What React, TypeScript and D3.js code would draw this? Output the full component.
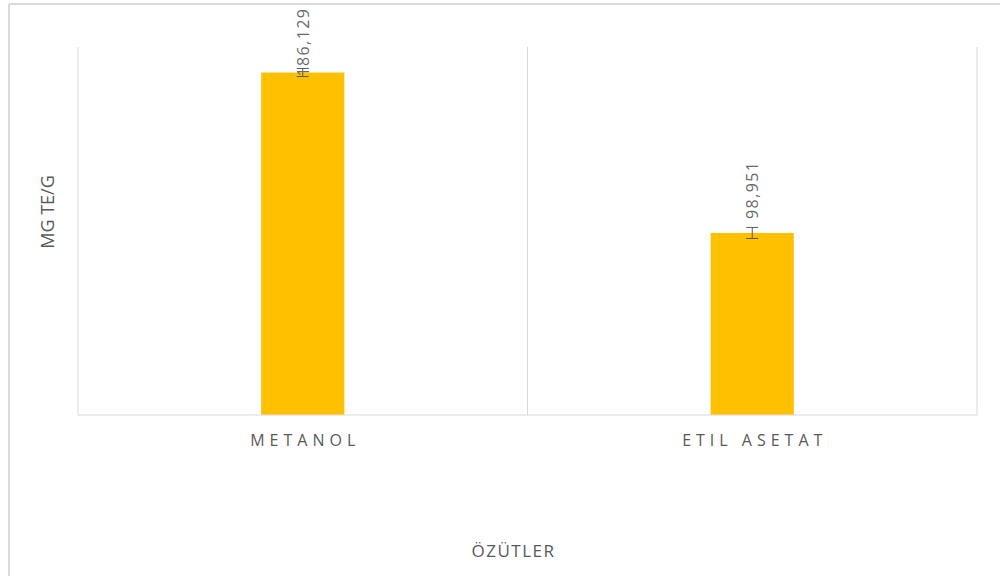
import React from "react";
import * as d3 from "d3";

// Extract yields (mg TE/g) per solvent, with standard deviations
const categories: string[] = ["METANOL", "ETIL ASETAT"];
const values: number[] = [186.129, 98.951];
const errors: number[] = [2.2, 3.0];
const valueLabels: string[] = ["186,129", "98,951"];
const yDomain: [number, number] = [0, 200];

const xTitle = "ÖZÜTLER";
const yTitle = "MG TE/G";

const W = 1000;
const H = 576;
const plot = { left: 78, right: 977, top: 47, bottom: 415 };
const GRID = "#d9d9d9";
const TEXT = "#595959";
const BAR = "#FFC000";
const FONT = "'Open Sans', 'Liberation Sans', sans-serif";
// label start nudges relative to bar tops
const labelNudge = [4, -14];

export default function App() {
  const x = d3
    .scaleBand<string>()
    .domain(categories)
    .range([plot.left, plot.right])
    .paddingInner(0)
    .paddingOuter(0);
  const y = d3.scaleLinear().domain(yDomain).range([plot.bottom, plot.top]);
  const barW = x.bandwidth() * 0.185;

  const gridXs = [plot.left, ...categories.map((c) => (x(c) as number) + x.bandwidth())];

  return (
    <svg
      width={W}
      height={H}
      style={{ position: "absolute", left: 0, top: 0, background: "#fff" }}
    >
      {/* outer chart frame */}
      <line x1={9} y1={4} x2={W} y2={4} stroke={GRID} strokeWidth={2} />
      <line x1={9} y1={4} x2={9} y2={H} stroke={GRID} strokeWidth={2} />

      {/* category separators */}
      {gridXs.map((gx, i) => (
        <line
          key={i}
          x1={gx}
          x2={gx}
          y1={plot.top}
          y2={plot.bottom}
          stroke={GRID}
          strokeWidth={1}
        />
      ))}

      {/* bars */}
      {categories.map((c, i) => {
        const cx = (x(c) as number) + x.bandwidth() / 2;
        return (
          <rect
            key={c}
            x={cx - barW / 2}
            y={y(values[i])}
            width={barW}
            height={y(0) - y(values[i])}
            fill={BAR}
          />
        );
      })}

      {/* baseline */}
      <line
        x1={plot.left}
        x2={plot.right}
        y1={plot.bottom}
        y2={plot.bottom}
        stroke={GRID}
        strokeWidth={1}
      />

      {/* error bars */}
      {categories.map((c, i) => {
        const cx = (x(c) as number) + x.bandwidth() / 2;
        const yt = y(values[i] + errors[i]);
        const yb = y(values[i] - errors[i]);
        return (
          <g key={c} stroke={TEXT} strokeWidth={1}>
            <line x1={cx} x2={cx} y1={yt} y2={yb} />
            <line x1={cx - 6} x2={cx + 6} y1={yt} y2={yt} />
            <line x1={cx - 6} x2={cx + 6} y1={yb} y2={yb} />
          </g>
        );
      })}

      {/* value labels */}
      {categories.map((c, i) => {
        const cx = (x(c) as number) + x.bandwidth() / 2;
        const ly = y(values[i]) + labelNudge[i];
        return (
          <text
            key={c}
            transform={`translate(${cx},${ly}) rotate(-90)`}
            dy="0.36em"
            textAnchor="start"
            fontFamily={FONT}
            fontSize={16}
            letterSpacing={1.4}
            fill="#6a6a6a"
          >
            {valueLabels[i]}
          </text>
        );
      })}

      {/* category labels */}
      {categories.map((c) => {
        const cx = (x(c) as number) + x.bandwidth() / 2;
        return (
          <text
            key={c}
            x={cx + 2.5}
            y={446}
            textAnchor="middle"
            fontFamily={FONT}
            fontSize={16}
            letterSpacing={5}
            fill={TEXT}
          >
            {c}
          </text>
        );
      })}

      {/* axis titles */}
      <text
        x={513.5}
        y={557}
        textAnchor="middle"
        fontFamily={FONT}
        fontSize={17}
        letterSpacing={1.5}
        fill={TEXT}
      >
        {xTitle}
      </text>
      <text
        transform={`translate(54,212) rotate(-90)`}
        textAnchor="middle"
        fontFamily={FONT}
        fontSize={18}
        fill={TEXT}
      >
        {yTitle}
      </text>
    </svg>
  );
}
